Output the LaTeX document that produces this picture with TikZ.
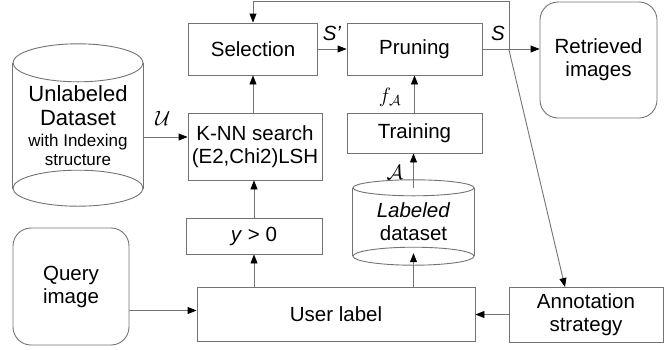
\documentclass[tikz,border=0pt]{standalone}
\usepackage{fontspec}
\setmainfont{Liberation Sans}
\usetikzlibrary{arrows.meta}
\newcommand{\bigline}{\fontsize{22}{25}\selectfont}
\newcommand{\smallline}{\fontsize{17}{18}\selectfont}

\begin{document}
\begin{tikzpicture}[
  x=1pt, y=-1pt,
  font=\fontsize{20.5}{23}\selectfont,
  line/.style={draw=black!55, line width=0.9pt},
  box/.style={line, align=center, inner sep=2pt},
  rbox/.style={box, rounded corners=18pt},
  dbase/.style={align=center, inner sep=0pt},
  lbl/.style={inner sep=1pt},
  arr/.style={line, -{Triangle[length=9pt, width=7pt, color=black]}}
]
\useasboundingbox (0,0) rectangle (667,349);

% processing boxes
\node[box, minimum width=129pt, minimum height=52pt] (sel) at (253,49) {Selection};
\node[box, minimum width=135pt, minimum height=52pt] (prun) at (414.5,49) {Pruning};
\node[box, minimum width=134pt, minimum height=67pt] (knn) at (255,146.5) {K-NN search\\(E2,Chi2)LSH};
\node[box, minimum width=135pt, minimum height=40pt] (train) at (414.5,133) {Training};
\node[box, minimum width=136pt, minimum height=36pt] (ypos) at (254,236) {\textit{y} > 0};
\node[box, minimum width=278pt, minimum height=54pt] (user) at (336,314) {User label};
\node[box, minimum width=154pt, minimum height=55pt] (annot) at (586,314.5) {Annotation\\strategy};

% rounded boxes
\node[rbox, minimum width=117pt, minimum height=116pt] (ret) at (598.5,60) {Retrieved\\images};
\node[rbox, minimum width=116pt, minimum height=117pt] (query) at (71,286.5) {Query\\image};

% data bases
\node[dbase, minimum width=130pt, minimum height=125pt] (unl) at (78,126)
  {\bigline Unlabeled\\[1pt]\bigline Dataset\\[-2pt]\smallline with Indexing\\[-4pt]\smallline structure};
\draw[line] (unl.north west) -- (unl.south west);
\draw[line] (unl.north east) -- (unl.south east);
\draw[line] ([yshift=0.5pt]unl.north) ellipse [x radius=65pt, y radius=19pt];
\draw[line] ([yshift=0.5pt]unl.south) ellipse [x radius=65pt, y radius=18pt];

\node[dbase, minimum width=121pt, minimum height=68pt] (lab) at (413.5,222) {\textit{Labeled}\\dataset};
\draw[line] (lab.north west) -- (lab.south west);
\draw[line] (lab.north east) -- (lab.south east);
\draw[line] (lab.north) ellipse [x radius=60.5pt, y radius=8pt];
\draw[line] (lab.south) ellipse [x radius=60.5pt, y radius=9pt];

% labels
\node[lbl] (lSp) at (332,33) {\textit{S'}};
\node[lbl] (lS) at (498,33) {\textit{S}};
\node[lbl] (lU) at (163,118) {$\mathcal{U}$};
\node[lbl] (lf) at (390,97) {$f_{\mathcal{A}}$};
\node[lbl] (lA) at (395,172) {$\mathcal{A}$};

% connectors
\coordinate (br) at (509,50);
\coordinate (top) at (509,1);
\coordinate (uout) at ([yshift=-11pt]unl.east);
\coordinate (qout) at ([yshift=-24pt]query.east);
\coordinate (ain) at (565,287);

\draw[arr] (sel.east) -- (sel.east -| prun.west);
\draw[arr] (prun.east) -- (prun.east -| ret.west);
\draw[arr] (knn.north -| sel.south) -- (sel.south);
\draw[arr] (ypos.north) -- (ypos.north |- knn.south);
\draw[arr] (ypos.south |- user.north) -- (ypos.south);
\draw[arr] (uout) -- (uout -| knn.west);
\draw[arr] (train.north) -- (train.north |- prun.south);
\draw[arr] (lab.north) -- (lab.north |- train.south);
\draw[arr] (lab.south |- user.north) -- ([yshift=3pt]lab.south);
\draw[arr] (qout) -- (qout -| user.west);
\draw[arr] (annot.west) -- (annot.west -| user.east);
\draw[arr] (br) -- (top) -| (sel.north);
\draw[arr] (br) -- (ain);
\end{tikzpicture}
\end{document}
